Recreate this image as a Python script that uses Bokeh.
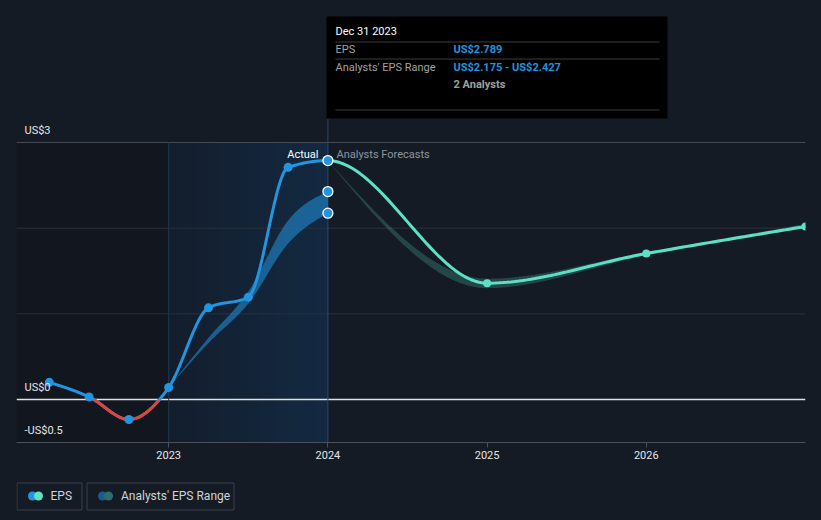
import numpy as np
from bokeh.plotting import figure
from bokeh.models import Range1d, FixedTicker
from bokeh.layouts import column
from bokeh.core.properties import value
from bokeh.embed import file_html
from bokeh.resources import INLINE

# ---------------- data ----------------
eps_x = [2022.25, 2022.5, 2022.75, 2023.0, 2023.25, 2023.5, 2023.75, 2024.0, 2025.0, 2026.0, 2027.0]
eps_y = [0.20, 0.03, -0.233, 0.14, 1.07, 1.195, 2.71, 2.789, 1.358, 1.704, 2.02]
n_actual = 8  # first 8 points are reported EPS

hist_band_x = [2023.0, 2023.25, 2023.5, 2023.75, 2024.0]
hist_band_lo = [0.14, 0.66, 1.12, 1.82, 2.175]
hist_band_hi = [0.14, 0.72, 1.26, 2.09, 2.427]

fc_band_x = [2024.0, 2025.0, 2026.0, 2027.0]
fc_band_lo = [2.789, 1.30, 1.68, 2.00]
fc_band_hi = [2.789, 1.41, 1.72, 2.05]

x_ticks = [2023, 2024, 2025, 2026]
x_tick_labels = ["2023", "2024", "2025", "2026"]
y_label_vals = [3, 0, -0.5]
y_label_text = ["US$3", "US$0", "-US$0.5"]
grid_vals = [1, 2, 3]

hover_date = "Dec 31 2023"
n_analysts = 2

# ---------------- styles ----------------
BG = "#151b25"
BG_LEFT = "#12161f"
BLUE = "#2394df"
TEAL = "#5ce1c6"
RED = "#e0453a"
FONT = "Roboto"

XMIN, XMAX = 2022.044, 2027.0
YMIN, YMAX = -0.502, 4.658
FRAME_L, FRAME_W, FRAME_H = 16, 789, 442
PPU = FRAME_H / (YMAX - YMIN)


def px2x(px):
    return XMIN + (px - FRAME_L) / FRAME_W * (XMAX - XMIN)


def py2y(py):
    return YMAX - py / FRAME_H * (YMAX - YMIN)


def mono(xs, ys, n=40):
    """d3 curveMonotoneX style cubic Hermite rendering of a series."""
    xs = np.asarray(xs, float)
    ys = np.asarray(ys, float)
    h = np.diff(xs)
    s = np.diff(ys) / h
    m = len(xs)
    t = np.zeros(m)
    sg = lambda v: -1.0 if v < 0 else 1.0
    for i in range(1, m - 1):
        p = (s[i - 1] * h[i] + s[i] * h[i - 1]) / (h[i - 1] + h[i])
        t[i] = (sg(s[i - 1]) + sg(s[i])) * min(abs(s[i - 1]), abs(s[i]), 0.5 * abs(p))
    if m > 2:
        t[0] = (3 * s[0] - t[1]) / 2
        t[-1] = (3 * s[-1] - t[-2]) / 2
    else:
        t[:] = s[0]
    ox, oy = [], []
    for i in range(m - 1):
        u = np.linspace(0, 1, n, endpoint=(i == m - 2))
        h00 = 2 * u**3 - 3 * u**2 + 1
        h10 = u**3 - 2 * u**2 + u
        h01 = -2 * u**3 + 3 * u**2
        h11 = u**3 - u**2
        ox.append(xs[i] + u * h[i])
        oy.append(h00 * ys[i] + h10 * h[i] * t[i] + h01 * ys[i + 1] + h11 * h[i] * t[i + 1])
    return np.concatenate(ox), np.concatenate(oy)


p = figure(width=821, height=470, x_range=Range1d(XMIN, XMAX), y_range=Range1d(YMIN, YMAX),
           output_backend="svg", toolbar_location=None, y_axis_location=None,
           min_border_left=16, min_border_right=16, min_border_top=0, min_border_bottom=28,
           background_fill_color=BG, border_fill_color=BG, outline_line_color=None,
           styles={"background-color": BG})
p.xgrid.visible = False
p.ygrid.visible = False

ax = p.xaxis[0]
ax.ticker = FixedTicker(ticks=x_ticks)
ax.major_label_overrides = {t: l for t, l in zip(x_ticks, x_tick_labels)}
ax.axis_line_color = "#4b505a"
ax.major_tick_line_color = "#4b505a"
ax.minor_tick_line_color = None
ax.major_tick_in = 0
ax.major_tick_out = 5
ax.major_label_standoff = 3
ax.major_label_text_color = "#e6e6e6"
ax.major_label_text_font = FONT
ax.major_label_text_font_size = "11px"

# background regions
p.quad(left=XMIN, right=2023.0, bottom=YMIN, top=3, fill_color=BG_LEFT, line_color=None)
nstrip = 40
c0 = np.array([19, 30, 45])
c1 = np.array([19, 42, 66])
edges = np.linspace(2023.0, 2024.0, nstrip + 1)
cols = []
for i in range(nstrip):
    c = (c0 + (c1 - c0) * (i + 0.5) / nstrip).astype(int)
    cols.append("#%02x%02x%02x" % tuple(c))
p.quad(left=edges[:-1], right=[2024.0] * nstrip, bottom=YMIN, top=3, fill_color=cols, line_color=None)

# gridlines
gcol = ["#474c55" if g == 3 else "#2b303a" for g in grid_vals]
p.segment(x0=[XMIN] * len(grid_vals), x1=[XMAX] * len(grid_vals), y0=grid_vals, y1=grid_vals,
          line_color=gcol, line_width=1)
p.segment(x0=[XMIN], x1=[XMAX], y0=[0], y1=[0], line_color="#e2e2e2", line_width=1.3)

# vertical lines
p.segment(x0=[2023.0], x1=[2023.0], y0=[YMIN], y1=[3], line_color="#1d3652", line_width=1)
p.segment(x0=[2024.0], x1=[2024.0], y0=[YMIN], y1=[py2y(118)], line_color="#2b4866", line_width=1)

# forecast band
fx, flo = mono(fc_band_x, fc_band_lo)
_, fhi = mono(fc_band_x, fc_band_hi)
p.varea(x=fx, y1=flo, y2=fhi, fill_color=TEAL, fill_alpha=0.22)

# historical band
hx, hlo = mono(hist_band_x, hist_band_lo)
_, hhi = mono(hist_band_x, hist_band_hi)
p.varea(x=hx, y1=hlo, y2=hhi, fill_color=BLUE, fill_alpha=0.55)

# EPS line
ex, ey = mono(eps_x, eps_y)
act = ex <= eps_x[n_actual - 1] + 1e-9
fc = ex >= eps_x[n_actual - 1] - 1e-9
p.line(ex[act], ey[act], line_color=BLUE, line_width=3)
ey_red = np.where(ey[act] < 0, ey[act], np.nan)
p.line(ex[act], ey_red, line_color=RED, line_width=3)
p.line(ex[fc], ey[fc], line_color=TEAL, line_width=3)

# markers
p.scatter(eps_x[:n_actual - 1], eps_y[:n_actual - 1], size=9, fill_color=BLUE, line_color=None)
p.scatter(eps_x[n_actual:], eps_y[n_actual:], size=8, fill_color=TEAL, line_color=None)
p.scatter([eps_x[n_actual - 1]] * 3, [eps_y[n_actual - 1], hist_band_hi[-1], hist_band_lo[-1]],
          size=10, fill_color=BLUE, line_color="white", line_width=1.3)

# y labels
p.text(x=[px2x(24)] * 3, y=[v + 12 / PPU for v in y_label_vals], text=y_label_text,
       text_font=value(FONT), text_font_size="11px", text_color="#e6e6e6",
       text_align="left", text_baseline="middle")

# section labels
p.text(x=[px2x(318)], y=[py2y(154)], text=["Actual"], text_font=value(FONT), text_font_size="11px",
       text_color="#ffffff", text_align="right", text_baseline="middle")
p.text(x=[px2x(336)], y=[py2y(154)], text=["Analysts Forecasts"], text_font=value(FONT),
       text_font_size="11px", text_color="#8f959e", text_align="left", text_baseline="middle")

# tooltip
p.quad(left=px2x(326), right=px2x(667), top=py2y(16), bottom=py2y(118), fill_color="#000000",
       line_color=None)
sep_y = [py2y(41.5), py2y(58.5), py2y(109.5)]
p.segment(x0=[px2x(335)] * 3, x1=[px2x(659)] * 3, y0=sep_y, y1=sep_y, line_color="#3c3c3c", line_width=1)
p.text(x=[px2x(335)], y=[py2y(31)], text=[hover_date], text_font=value(FONT), text_font_size="11px",
       text_color="#ffffff", text_align="left", text_baseline="middle")
p.text(x=[px2x(335), px2x(335)], y=[py2y(49), py2y(66.5)], text=["EPS", "Analysts' EPS Range"],
       text_font=value(FONT), text_font_size="11px", text_color="#a3a3a3",
       text_align="left", text_baseline="middle")
eps_txt = "US$%.3f" % eps_y[n_actual - 1]
rng_txt = "US$%.3f - US$%.3f" % (hist_band_lo[-1], hist_band_hi[-1])
p.text(x=[px2x(453), px2x(453)], y=[py2y(49), py2y(66.5)], text=[eps_txt, rng_txt],
       text_font=value(FONT), text_font_size="11px", text_color="#2394df", text_font_style="bold",
       text_align="left", text_baseline="middle")
p.text(x=[px2x(453)], y=[py2y(83.5)], text=["%d Analysts" % n_analysts], text_font=value(FONT),
       text_font_size="11px", text_color="#a0a0a0", text_font_style="bold",
       text_align="left", text_baseline="middle")

# ---------------- legend strip ----------------
lp = figure(width=821, height=50, x_range=Range1d(16, 805), y_range=Range1d(50, 0),
            output_backend="svg", toolbar_location=None, x_axis_location=None, y_axis_location=None,
            min_border_left=16, min_border_right=16, min_border_top=0, min_border_bottom=0,
            background_fill_color=BG, border_fill_color=BG, outline_line_color=None,
            styles={"background-color": BG})
lp.xgrid.visible = False
lp.ygrid.visible = False
lp.quad(left=[16.5, 86.5], right=[81.5, 233.5], top=[12.5, 12.5], bottom=[39.5, 39.5],
        fill_color=None, line_color="#3b414c", line_width=1)
lp.scatter([32, 38], [25.5, 25.5], size=9, fill_color=[BLUE, TEAL], line_color=None)
lp.scatter([102, 108], [25.5, 25.5], size=9, fill_color=["#1d5a8c", "#2f6e6a"], line_color=None)
lp.text(x=[50, 120.5], y=[25.5, 25.5], text=["EPS", "Analysts' EPS Range"], text_font=value(FONT),
        text_font_size="12px", text_color="#d0d3d8", text_align="left", text_baseline="middle")

layout = column(p, lp, spacing=0, styles={"background-color": BG})
open("out.html", "w").write(file_html(layout, INLINE))
